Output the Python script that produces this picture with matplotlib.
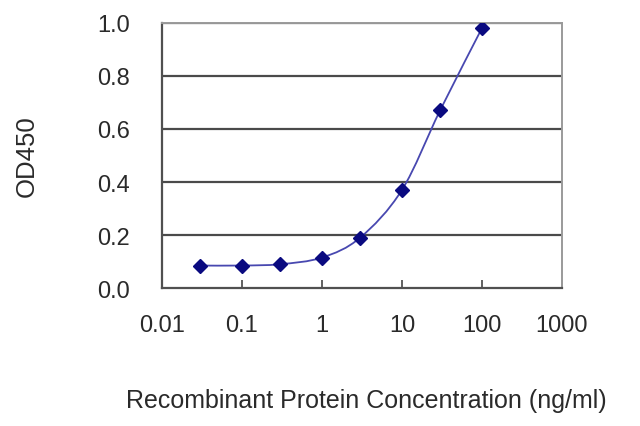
import matplotlib
matplotlib.use("Agg")
import matplotlib.pyplot as plt
import numpy as np
from matplotlib.path import Path
from matplotlib.patches import PathPatch

plt.rcParams['font.family'] = ['Liberation Sans', 'DejaVu Sans']

# data
conc = [0.03, 0.1, 0.3, 1, 3, 10, 30, 100]
od450 = [0.085, 0.085, 0.09, 0.115, 0.19, 0.37, 0.67, 0.98]
xticks = [0.01, 0.1, 1, 10, 100, 1000]
xticklabels = ['0.01', '0.1', '1', '10', '100', '1000']
yticks = [0.0, 0.2, 0.4, 0.6, 0.8, 1.0]

fig = plt.figure(figsize=(6.4, 4.27), dpi=100)
ax = fig.add_axes([0.253, 0.323, 0.625, 0.621])
ax.set_xscale('log')
ax.set_xlim(0.01, 1000)
ax.set_ylim(0, 1.0)

for y in yticks[1:]:
    ax.axhline(y, color='#4a4a4a', lw=1.6, zorder=1)

# smoothed line (excel style), catmull-rom bezier in log-x space
lx = np.log10(conc)
yy = np.array(od450)
pts = np.column_stack([lx, yy])
ext = np.vstack([pts[0], pts, pts[-1]])
verts = [pts[0]]
codes = [Path.MOVETO]
for i in range(len(pts) - 1):
    p0, p1, p2, p3 = ext[i], ext[i + 1], ext[i + 2], ext[i + 3]
    c1 = p1 + (p2 - p0) / 6.0
    c2 = p2 - (p3 - p1) / 6.0
    verts += [c1, c2, p2]
    codes += [Path.CURVE4] * 3
verts = np.array(verts)
verts[:, 0] = 10 ** verts[:, 0]
ax.add_patch(PathPatch(Path(verts, codes), fill=False, edgecolor='#4848b0',
                       lw=1.3, zorder=2))
ax.plot(conc, od450, ls='none', marker='D', ms=7.5, color='#0a0a80',
        mec='#0a0a80', zorder=3)

for s in ['left', 'bottom']:
    ax.spines[s].set_color('#505050')
    ax.spines[s].set_linewidth(1.6)
for s in ['top', 'right']:
    ax.spines[s].set_color('#9a9a9a')
    ax.spines[s].set_linewidth(1.4)

ax.set_xticks(xticks)
ax.set_xticklabels(xticklabels)
ax.minorticks_off()
ax.set_yticks(yticks)
ax.set_yticklabels(['%.1f' % v for v in yticks])
ax.tick_params(axis='x', direction='in', length=6, width=1.4, color='#606060',
               pad=19, labelsize=17, labelcolor='#2a2a2a')
ax.tick_params(axis='y', length=0, pad=23, labelsize=17, labelcolor='#2a2a2a')

fig.text(0.573, 0.061, 'Recombinant Protein Concentration (ng/ml)', ha='center',
         va='center', fontsize=18, color='#2a2a2a')
fig.text(0.042, 0.635, 'OD450', rotation=90, ha='center', va='center',
         fontsize=18.5, color='#2a2a2a')

fig.savefig('out.png', dpi=100, facecolor='white')
